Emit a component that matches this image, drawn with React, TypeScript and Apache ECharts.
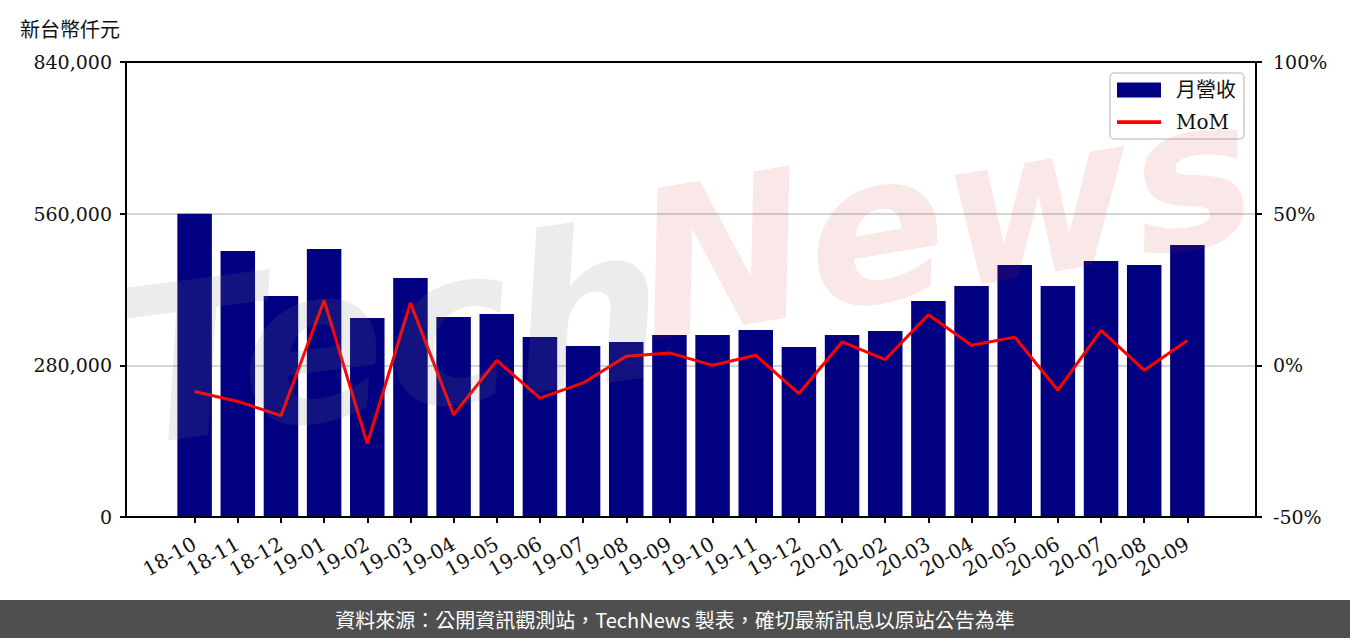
import React, { useEffect, useRef } from "react";
import * as echarts from "echarts";

const categories = [
  "18-10", "18-11", "18-12", "19-01", "19-02", "19-03", "19-04", "19-05",
  "19-06", "19-07", "19-08", "19-09", "19-10", "19-11", "19-12", "20-01",
  "20-02", "20-03", "20-04", "20-05", "20-06", "20-07", "20-08", "20-09",
];
const revenue = [
  560000, 491000, 408000, 494800, 367400, 441200, 369200, 374800,
  332300, 315700, 323100, 336000, 336000, 345200, 313800, 336000,
  343400, 398800, 426500, 465200, 426500, 472600, 465200, 502200,
];
const mom = [
  -8.6, -11.9, -16.6, 21.4, -25.8, 20.6, -16.3, 1.6,
  -10.8, -5.8, 3.0, 4.1, 0.0, 3.3, -9.3, 7.7,
  1.9, 16.7, 6.6, 9.3, -8.2, 11.5, -1.6, 8.2,
];
const leftTicks = { min: 0, max: 840000, interval: 280000 };
const rightTicks = { min: -50, max: 100, interval: 50 };
const yTitle = "新台幣仟元";
const seriesNames = ["月營收", "MoM"];
const footerText = "資料來源：公開資訊觀測站，TechNews 製表，確切最新訊息以原站公告為準";

const SERIF = "'DejaVu Serif', 'Noto Sans CJK TC', serif";
const LINE_ICON = "path://M0,0 L0,0 Z M0,5.8 L44,5.8 L44,9.4 L0,9.4 Z M44,15 L44,15 Z";

export default function App() {
  const ref = useRef<HTMLDivElement>(null);
  useEffect(() => {
    document.body.style.margin = "0";
    if (!ref.current) return;
    const chart = echarts.init(ref.current, undefined, { renderer: "svg" });
    const idx = categories.map((_, i) => i);
    const tickStyle = { show: true, length: 6, lineStyle: { color: "#000", width: 2 } };
    const axisLine = { show: true, onZero: false, lineStyle: { color: "#000", width: 2 } };
    chart.setOption({
      animation: false,
      backgroundColor: "#fff",
      grid: { left: 126, right: 94, top: 62, bottom: 121, show: false },
      legend: {
        orient: "vertical", left: 1110, top: 73,
        padding: [7, 8, 7, 7], itemGap: 12, itemWidth: 44, itemHeight: 15,
        backgroundColor: "rgba(255,255,255,0.85)", borderColor: "#cccccc",
        borderWidth: 1.5, borderRadius: 4,
        textStyle: { fontSize: 20, fontFamily: SERIF, color: "#111", padding: [0, 0, 0, 10] },
        data: [
          { name: seriesNames[0], icon: "rect" },
          { name: seriesNames[1], icon: LINE_ICON, itemStyle: { color: "#ff0000", borderWidth: 0 } },
        ],
      },
      xAxis: {
        type: "value", min: -1.59, max: 24.59,
        axisLine,
        axisTick: { ...tickStyle, customValues: idx },
        splitLine: { show: false },
        axisLabel: {
          customValues: idx, rotate: 30, margin: 25,
          formatter: (v: number) => categories[Math.round(v)] ?? "",
          fontFamily: SERIF, fontSize: 20, color: "#111",
        },
      },
      yAxis: [
        {
          type: "value", ...leftTicks, position: "left",
          axisLine, axisTick: tickStyle,
          splitLine: { show: true, lineStyle: { color: "#d4d4d4", width: 2 } },
          axisLabel: {
            margin: 14, fontFamily: SERIF, fontSize: 19, color: "#111",
            formatter: (v: number) => v.toLocaleString("en-US"),
          },
        },
        {
          type: "value", ...rightTicks, position: "right",
          axisLine, axisTick: tickStyle,
          splitLine: { show: false },
          axisLabel: {
            margin: 17, fontFamily: SERIF, fontSize: 19, color: "#111",
            formatter: (v: number) => `${v}%`,
          },
        },
      ],
      series: [
        {
          name: seriesNames[0], type: "bar", yAxisIndex: 0,
          barWidth: 34.5, itemStyle: { color: "#000080" },
          data: revenue.map((v, i) => [i, v]),
          z: 2,
        },
        {
          name: seriesNames[1], type: "line", yAxisIndex: 1,
          symbol: "none", lineStyle: { color: "#ff0000", width: 3 },
          itemStyle: { color: "#ff0000" },
          data: mom.map((v, i) => [i, v]),
          z: 3,
        },
      ],
      graphic: [
        {
          type: "text", x: 135, y: 478, rotation: 0.13, z: 50, silent: true,
          style: {
            text: "Tech", font: "italic bold 215px 'DejaVu Sans'",
            fill: "rgba(128,128,128,0.15)", verticalAlign: "bottom",
          },
        },
        {
          type: "text", x: 655, y: 372, rotation: 0.17, z: 50, silent: true,
          style: {
            text: "News", font: "italic bold 205px 'DejaVu Sans'",
            fill: "rgba(210,40,40,0.11)", verticalAlign: "bottom",
          },
        },
        {
          type: "rect", z: 100, silent: true,
          shape: { x: 126, y: 62, width: 1130, height: 455 },
          style: { fill: "none", stroke: "#000", lineWidth: 2 },
        },
        {
          type: "text", x: 20, y: 28,
          style: {
            text: yTitle, font: "20px 'Noto Sans CJK TC'", fill: "#111",
            verticalAlign: "middle",
          },
        },
        {
          type: "rect", shape: { x: 0, y: 600, width: 1350, height: 38 },
          style: { fill: "#4f4f4f" },
        },
        {
          type: "text", x: 675, y: 619,
          style: {
            text: footerText, font: "20px 'Noto Sans CJK TC'", fill: "#ffffff",
            align: "center", verticalAlign: "middle",
          },
        },
      ],
    });
    return () => chart.dispose();
  }, []);
  return <div ref={ref} style={{ width: 1350, height: 638 }} />;
}
